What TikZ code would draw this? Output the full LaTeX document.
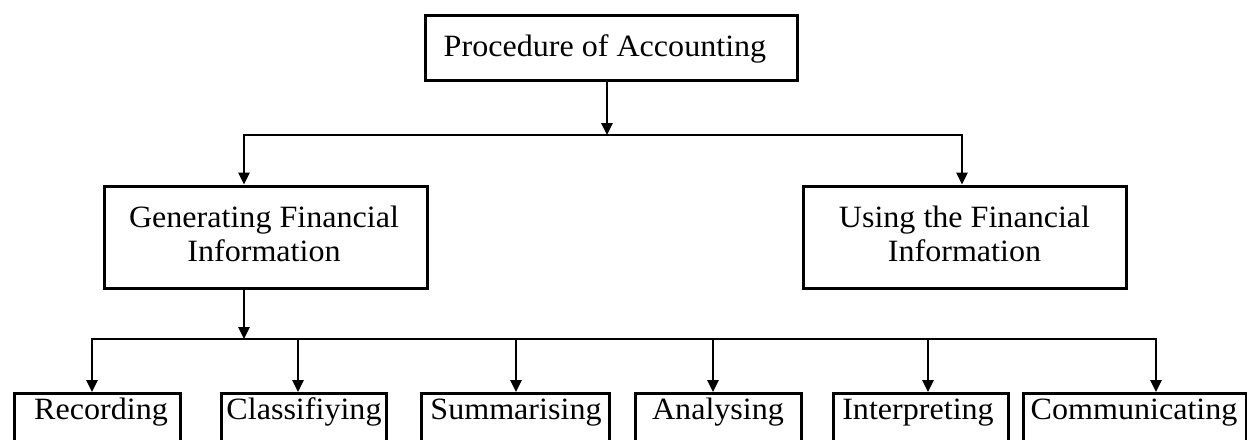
\documentclass[tikz,border=0pt]{standalone}
\usepackage{fontspec}
\setmainfont{Liberation Serif}[FakeStretch=1.035]
\usetikzlibrary{arrows.meta}
\tikzset{
  boxstyle/.style={draw=black, line width=3pt, inner sep=0pt, fill=white},
  txt/.style={inner sep=0pt, anchor=base, font=\fontsize{31}{34}\selectfont},
  conn/.style={draw=black, line width=2.6pt, line join=miter},
  tip/.style={-{Triangle[length=12pt,width=11pt]}},
  tips/.style={{Triangle[length=12pt,width=11pt]}-{Triangle[length=12pt,width=11pt]}}
}
\begin{document}
\begin{tikzpicture}[x=1pt,y=-1pt]
\useasboundingbox (0,0) rectangle (1247,439);
\clip (0,0) rectangle (1247,439);
% top box
\node[boxstyle, minimum width=372pt, minimum height=65pt] (top) at (611,47.5) {};
\node[txt] (topT) at (605,56) {Procedure of Accounting};
% second level
\node[boxstyle, minimum width=323pt, minimum height=102pt] (gfi) at (265.5,237) {};
\node[txt] (gfiA) at (264,227) {Generating Financial};
\node[txt] (gfiB) at (264,261) {Information};
\node[boxstyle, minimum width=323pt, minimum height=102pt] (ufi) at (964.5,237) {};
\node[txt] (ufiA) at (964.5,227) {Using the Financial};
\node[txt] (ufiB) at (964.5,261) {Information};
% bottom boxes
\node[boxstyle, minimum width=166pt, minimum height=80pt, anchor=north west] (rec) at (13,392) {};
\node[txt] (recT) at (101,419) {Recording};
\node[boxstyle, minimum width=165pt, minimum height=80pt, anchor=north west] (cla) at (220,392) {};
\node[txt] (claT) at (304,419) {Classifiying};
\node[boxstyle, minimum width=188pt, minimum height=80pt, anchor=north west] (sum) at (420,392) {};
\node[txt] (sumT) at (516,419) {Summarising};
\node[boxstyle, minimum width=166pt, minimum height=80pt, anchor=north west] (ana) at (634,392) {};
\node[txt] (anaT) at (718,419) {Analysing};
\node[boxstyle, minimum width=175pt, minimum height=80pt, anchor=north west] (int) at (832,392) {};
\node[txt] (intT) at (918,419) {Interpreting};
\node[boxstyle, minimum width=223pt, minimum height=80pt, anchor=north west] (com) at (1022,392) {};
\node[txt] (comT) at (1134,419) {Communicating};
% junctions
\coordinate (j0) at (607,135);
\coordinate (jl) at (244,135);
\coordinate (jr) at (962,135);
\coordinate (k0) at (244,339);
\coordinate (k1) at (92,339);
\coordinate (k2) at (298,339);
\coordinate (k3) at (516,339);
\coordinate (k4) at (713,339);
\coordinate (k5) at (928,339);
\coordinate (k6) at (1156,339);
% connectors
\draw[conn, tip] (top.south -| j0) -- (j0);
\draw[conn, tips] (gfi.north -| jl) -- (jl) -- (jr) -- (ufi.north -| jr);
\draw[conn, tip] (gfi.south -| k0) -- (k0);
\draw[conn, tips] (rec.north -| k1) -- (k1) -- (k6) -- (com.north -| k6);
\draw[conn, tip] (k2) -- (cla.north -| k2);
\draw[conn, tip] (k3) -- (sum.north -| k3);
\draw[conn, tip] (k4) -- (ana.north -| k4);
\draw[conn, tip] (k5) -- (int.north -| k5);
\end{tikzpicture}
\end{document}
